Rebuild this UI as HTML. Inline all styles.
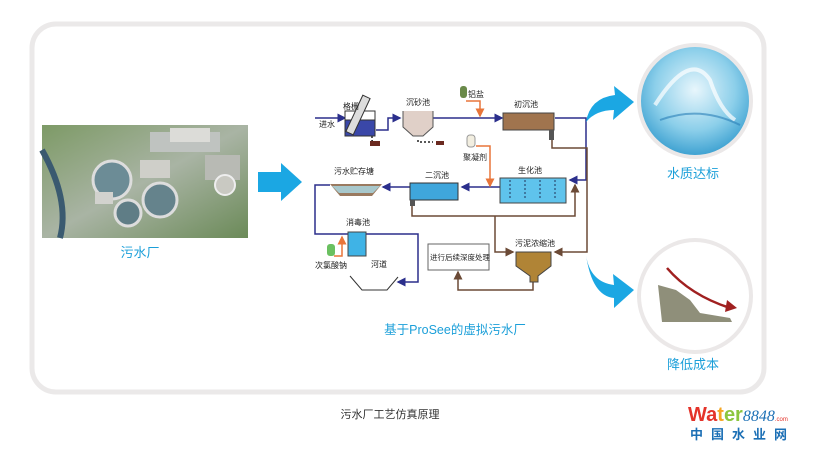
<!DOCTYPE html>
<html><head><meta charset="utf-8"><style>
body{margin:0;background:#fff;width:816px;height:450px;overflow:hidden;font-family:"Liberation Sans","Noto Sans CJK SC",sans-serif}
</style></head><body>
<svg width="816" height="450" viewBox="0 0 816 450" xmlns="http://www.w3.org/2000/svg" font-family="Liberation Sans, Noto Sans CJK SC, sans-serif">
<defs>
<radialGradient id="w" cx="50%" cy="40%" r="60%"><stop offset="0" stop-color="#e8f6fc"/><stop offset="0.6" stop-color="#8ccfea"/><stop offset="1" stop-color="#3a9fd0"/></radialGradient>
<linearGradient id="ph" x1="0" y1="0" x2="1" y2="1"><stop offset="0" stop-color="#7d9a66"/><stop offset="0.5" stop-color="#a9b4a4"/><stop offset="1" stop-color="#6b8a58"/></linearGradient>
<marker id="ab" markerWidth="6" markerHeight="6" refX="5" refY="3" orient="auto"><path d="M0,0L6,3L0,6z" fill="#2b2f8c"/></marker>
<marker id="ar" markerWidth="6" markerHeight="6" refX="5" refY="3" orient="auto"><path d="M0,0L6,3L0,6z" fill="#6b4a36"/></marker>
<marker id="ao" markerWidth="6" markerHeight="6" refX="5" refY="3" orient="auto"><path d="M0,0L6,3L0,6z" fill="#e8753a"/></marker>
</defs>
<rect x="32" y="24" width="732" height="368" rx="24" fill="#fff" stroke="#ebe9e9" stroke-width="5"/>
<!-- photo -->
<rect x="42" y="125" width="206" height="113" fill="url(#ph)"/>
<rect x="150" y="132" width="70" height="20" fill="#bfc3c0"/>
<rect x="170" y="128" width="40" height="14" fill="#dcdcd8"/>
<rect x="205" y="155" width="35" height="25" fill="#b8bab4"/>
<rect x="140" y="160" width="30" height="18" fill="#cfcfc9"/>
<circle cx="112" cy="180" r="19" fill="#6c8c96" stroke="#ddd" stroke-width="3"/>
<circle cx="160" cy="200" r="17" fill="#65838c" stroke="#ddd" stroke-width="3"/>
<circle cx="128" cy="213" r="13" fill="#5f7d86" stroke="#ddd" stroke-width="3"/>
<circle cx="225" cy="185" r="10" fill="#c9c9c2" stroke="#eee" stroke-width="2"/>
<rect x="95" y="192" width="18" height="12" fill="#d2d2ce"/>
<path d="M42,150 Q70,200 60,238" stroke="#3a5a70" stroke-width="6" fill="none"/>
<text x="140" y="257" font-size="13" fill="#1b9fd9" text-anchor="middle">污水厂</text>
<!-- big arrow -->
<path d="M258,172 H281 V163 L302,182 L281,201 V192 H258 Z" fill="#1ba7e3"/>
<!-- diagram lines -->
<g fill="none" stroke-width="1.5">
<path d="M315,118 H345" stroke="#2b2f8c" marker-end="url(#ab)"/>
<path d="M376,130 H388 V118 H400" stroke="#2b2f8c" marker-end="url(#ab)"/>
<path d="M430,118 H502" stroke="#2b2f8c" marker-end="url(#ab)"/>
<path d="M555,118 H586 V180 H570" stroke="#2b2f8c" marker-end="url(#ab)"/>
<path d="M500,187 H462" stroke="#2b2f8c" marker-end="url(#ab)"/>
<path d="M410,187 H383" stroke="#2b2f8c" marker-end="url(#ab)"/>
<path d="M330,185 H315 V234 H348" stroke="#2b2f8c"/>
<path d="M366,234 H418 V282 H398" stroke="#2b2f8c" marker-end="url(#ab)"/>
<path d="M552,140 V148 H587 V252 H555" stroke="#6b4a36" marker-end="url(#ar)"/>
<path d="M412,206 V216 H575 V185" stroke="#6b4a36" marker-end="url(#ar)"/>
<path d="M495,216 V252 H513" stroke="#6b4a36" marker-end="url(#ar)"/>
<path d="M533,280 V290 H458 V272" stroke="#6b4a36" marker-end="url(#ar)"/>
<path d="M466,101 H480 V116" stroke="#e8753a" marker-end="url(#ao)"/>
<path d="M476,146 H490 V186" stroke="#e8753a" marker-end="url(#ao)"/>
<path d="M334,256 H342 V237" stroke="#e8753a" marker-end="url(#ao)"/>
<path d="M372,132 V141 H374" stroke="#222" stroke-dasharray="2,2"/>
<path d="M418,140 V142 H433" stroke="#222" stroke-dasharray="2,2"/>
</g>
<!-- units -->
<rect x="345" y="111" width="30" height="25" fill="#3a47a8" stroke="#333"/>
<rect x="345" y="111" width="30" height="9" fill="#fff" stroke="#333"/>
<rect x="354" y="95" width="8" height="40" fill="#ddd" stroke="#333" transform="rotate(25 358 115)"/>
<rect x="370" y="141" width="10" height="5" fill="#6b2a20"/>
<path d="M403,111 V127 L413,136 H423 L433,127 V111" fill="#e0d0c8" stroke="#555"/>
<rect x="436" y="141" width="8" height="4" fill="#6b2a20"/>
<rect x="460" y="86" width="7" height="12" rx="3" fill="#6a8a4a"/>
<rect x="503" y="113" width="51" height="17" fill="#a0744e" stroke="#444"/>
<rect x="549" y="130" width="5" height="10" fill="#555"/>
<rect x="467" y="135" width="8" height="12" rx="3" fill="#f2eee0" stroke="#999"/>
<rect x="500" y="178" width="66" height="25" fill="#5fc3ec" stroke="#444"/>
<g stroke="#2b4a70" stroke-width="1.2" stroke-dasharray="2,2"><path d="M510,180 V200M525,180 V200M540,180 V200M555,180 V200"/></g>
<rect x="410" y="183" width="48" height="17" fill="#3fa6dc" stroke="#333"/>
<rect x="410" y="200" width="5" height="6" fill="#555"/>
<path d="M330,184 L340,196 H372 L382,184 Z" fill="#9a7a60"/>
<path d="M332,186 L339,193 H373 L380,186Z" fill="#a8c8cc"/>
<rect x="348" y="232" width="18" height="24" fill="#3fb3e6" stroke="#444"/>
<rect x="327" y="244" width="8" height="12" rx="3" fill="#6ac060"/>
<path d="M350,276 L362,290 H387 L398,277" fill="none" stroke="#333"/>
<rect x="428" y="244" width="61" height="26" fill="#fff" stroke="#666"/>
<path d="M516,252 V266 L530,276 V282 H538 V276 L551,266 V252 Z" fill="#b08436" stroke="#444"/>
<!-- labels -->
<g font-size="8" fill="#222">
<text x="319" y="127">进水</text>
<text x="343" y="109">格栅</text>
<text x="406" y="105">沉砂池</text>
<text x="468" y="97">铝盐</text>
<text x="514" y="107">初沉池</text>
<text x="463" y="160">聚凝剂</text>
<text x="518" y="173">生化池</text>
<text x="425" y="178">二沉池</text>
<text x="334" y="174">污水贮存塘</text>
<text x="346" y="225">消毒池</text>
<text x="315" y="268">次氯酸钠</text>
<text x="371" y="267">河道</text>
<text x="430" y="260" font-size="7.5">进行后续深度处理</text>
<text x="515" y="246">污泥浓缩池</text>
</g>
<text x="455" y="334" font-size="12.5" fill="#1b9fd9" text-anchor="middle">基于ProSee的虚拟污水厂</text>
<!-- right arrows -->
<path d="M586,122 Q590,98 615,95 L614,86 L634,102 L613,120 L614,110 Q596,110 586,122Z" fill="#1ba7e3"/>
<path d="M586,255 Q590,282 614,285 L613,274 L634,290 L614,308 L614,298 Q592,296 586,255Z" fill="#1ba7e3"/>
<!-- circles -->
<circle cx="695" cy="101" r="56" fill="url(#w)" stroke="#ebe8e8" stroke-width="4"/>
<path d="M655,105 Q690,50 710,80 Q720,110 735,120" stroke="#fff" stroke-width="4" fill="none" opacity="0.7"/>
<path d="M660,120 Q700,105 740,125" stroke="#2a7fb8" stroke-width="2" fill="none" opacity="0.6"/>
<text x="693" y="178" font-size="13" fill="#1b9fd9" text-anchor="middle">水质达标</text>
<circle cx="695" cy="296" r="56" fill="#fff" stroke="#ebe8e8" stroke-width="4"/>
<path d="M658,285 L662,322 H732 L730,318 L700,313 L690,300 L676,290 Z" fill="#8f8f7a"/>
<path d="M667,268 Q690,295 730,308" stroke="#a02020" stroke-width="2.5" fill="none"/>
<path d="M727,300 L737,308 L725,312Z" fill="#a02020"/>
<text x="693" y="369" font-size="13" fill="#1b9fd9" text-anchor="middle">降低成本</text>
<!-- caption -->
<text x="390" y="418" font-size="11" fill="#333" text-anchor="middle">污水厂工艺仿真原理</text>
<text x="688" y="421" font-size="20" font-weight="bold"><tspan fill="#e4332a">Wa</tspan><tspan fill="#f5a623">t</tspan><tspan fill="#8cc63f">er</tspan><tspan fill="#1b6fb5" font-family="Liberation Serif" font-style="italic" font-weight="normal" font-size="16">8848</tspan><tspan fill="#e4332a" font-size="6" font-weight="normal">.com</tspan></text>
<text x="690" y="439" font-size="13" fill="#1b6fb5" font-weight="bold" letter-spacing="8">中国水业网</text>
</svg>
</body></html>
